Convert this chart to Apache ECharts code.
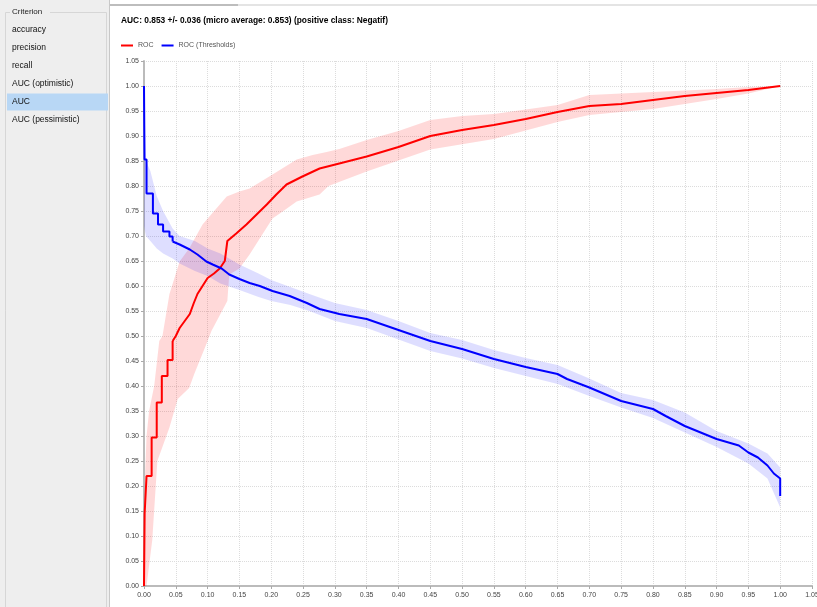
<!DOCTYPE html>
<html><head><meta charset="utf-8">
<script src="https://cdn.jsdelivr.net/npm/echarts@6/dist/echarts.min.js"></script>
<style>html,body{margin:0;padding:0;background:#fff;overflow:hidden}#c{width:817px;height:607px}</style>
</head><body><div id="c"></div>
<script>
// ---- data ----
const titleText = 'AUC: 0.853 +/- 0.036 (micro average: 0.853) (positive class: Negatif)';
const criteria = ['accuracy', 'precision', 'recall', 'AUC (optimistic)', 'AUC', 'AUC (pessimistic)'];
const selectedCriterion = 'AUC';
const seriesNames = ['ROC', 'ROC (Thresholds)'];

// ROC (red) – stepped start
const rocStepX = [0, 0.001, 0.004, 0.012, 0.020, 0.028, 0.037, 0.045];
const rocStepY = [0, 0.145, 0.220, 0.297, 0.367, 0.420, 0.452, 0.490];
// ROC (red) – rest
const rocX = [0.045, 0.050, 0.056, 0.064, 0.072, 0.078, 0.084, 0.092, 0.100, 0.110, 0.119, 0.127, 0.129, 0.131, 0.145, 0.161, 0.177, 0.193, 0.208, 0.224, 0.249, 0.276, 0.307, 0.35, 0.40, 0.45, 0.50, 0.55, 0.60, 0.65, 0.70, 0.75, 0.80, 0.85, 0.90, 0.95, 1.00];
const rocY = [0.490, 0.500, 0.516, 0.530, 0.544, 0.565, 0.584, 0.600, 0.616, 0.625, 0.635, 0.650, 0.670, 0.690, 0.705, 0.723, 0.743, 0.763, 0.783, 0.803, 0.819, 0.835, 0.845, 0.859, 0.878, 0.900, 0.912, 0.922, 0.934, 0.948, 0.960, 0.964, 0.972, 0.980, 0.986, 0.992, 1.000];
// ROC band
const rocUpX = [0, 0.001, 0.004, 0.008, 0.016, 0.024, 0.029, 0.040, 0.056, 0.071, 0.092, 0.130, 0.150, 0.166, 0.202, 0.240, 0.265, 0.287, 0.307, 0.35, 0.40, 0.45, 0.50, 0.55, 0.60, 0.65, 0.70, 0.75, 0.80, 0.90, 0.95, 1.00];
const rocUpY = [0, 0.200, 0.300, 0.350, 0.400, 0.490, 0.500, 0.584, 0.649, 0.675, 0.723, 0.779, 0.789, 0.795, 0.823, 0.853, 0.862, 0.868, 0.874, 0.892, 0.910, 0.932, 0.940, 0.944, 0.953, 0.962, 0.982, 0.985, 0.988, 0.994, 0.998, 1.000];
const rocLoX = [0, 0.004, 0.013, 0.021, 0.040, 0.053, 0.071, 0.079, 0.100, 0.106, 0.131, 0.134, 0.150, 0.166, 0.186, 0.202, 0.218, 0.240, 0.276, 0.29, 0.35, 0.45, 0.55, 0.65, 0.70, 0.80, 0.90, 0.95, 1.00];
const rocLoY = [0, 0.000, 0.092, 0.250, 0.317, 0.374, 0.396, 0.424, 0.490, 0.510, 0.570, 0.623, 0.635, 0.663, 0.703, 0.735, 0.749, 0.769, 0.783, 0.800, 0.829, 0.873, 0.894, 0.928, 0.942, 0.954, 0.974, 0.985, 1.000];

// ROC (Thresholds) (blue) – stepped start
const thrStepX = [0, 0.0008, 0.004, 0.014, 0.022, 0.030, 0.040, 0.045];
const thrStepY = [1.000, 0.853, 0.785, 0.745, 0.723, 0.709, 0.699, 0.689];
// ROC (Thresholds) – rest
const thrX = [0.045, 0.056, 0.072, 0.084, 0.098, 0.108, 0.122, 0.134, 0.150, 0.166, 0.182, 0.202, 0.229, 0.256, 0.276, 0.307, 0.35, 0.40, 0.45, 0.50, 0.55, 0.60, 0.65, 0.665, 0.70, 0.75, 0.80, 0.82, 0.85, 0.90, 0.935, 0.95, 0.965, 0.98, 0.99, 1.00, 1.00];
const thrY = [0.689, 0.683, 0.673, 0.663, 0.649, 0.643, 0.635, 0.623, 0.614, 0.606, 0.600, 0.590, 0.580, 0.566, 0.554, 0.544, 0.534, 0.512, 0.490, 0.474, 0.454, 0.438, 0.424, 0.414, 0.397, 0.370, 0.354, 0.340, 0.320, 0.294, 0.281, 0.267, 0.257, 0.241, 0.225, 0.215, 0.180];
// Thresholds band
const thrBandX = [0, 0.003, 0.01, 0.02, 0.03, 0.045, 0.056, 0.08, 0.10, 0.12, 0.15, 0.18, 0.20, 0.23, 0.26, 0.30, 0.35, 0.40, 0.45, 0.50, 0.55, 0.60, 0.65, 0.70, 0.75, 0.80, 0.85, 0.90, 0.95, 0.98, 1.00];
const thrBandHi = [1.000, 0.850, 0.830, 0.780, 0.750, 0.715, 0.700, 0.690, 0.675, 0.665, 0.643, 0.625, 0.612, 0.598, 0.584, 0.566, 0.552, 0.530, 0.506, 0.492, 0.472, 0.456, 0.442, 0.415, 0.386, 0.372, 0.347, 0.310, 0.285, 0.265, 0.237];
const thrBandLo = [0.720, 0.700, 0.690, 0.675, 0.665, 0.655, 0.645, 0.630, 0.620, 0.605, 0.592, 0.578, 0.570, 0.562, 0.550, 0.530, 0.516, 0.493, 0.470, 0.455, 0.436, 0.420, 0.404, 0.380, 0.357, 0.336, 0.307, 0.278, 0.245, 0.215, 0.157];

const axisMin = 0, axisMax = 1.05, axisStep = 0.05;

// ---- chart ----
const zip = (xs, ys) => xs.map((x, i) => [x, ys[i]]);
const chart = echarts.init(document.getElementById('c'), null, {renderer: 'canvas', width: 817, height: 607});

function bandSeries(name, upper, lower, color) {
  return {
    type: 'custom', name: name, silent: true, clip: true, z: 1,
    data: [[upper[0][0], upper[0][1]]],
    renderItem: function (params, api) {
      if (params.dataIndex !== 0) return null;
      const pts = upper.map(p => api.coord(p)).concat(lower.slice().reverse().map(p => api.coord(p)));
      return {type: 'polygon', shape: {points: pts}, style: {fill: color}};
    }
  };
}

const FONT = 'Liberation Sans';
const graphics = [
  {type: 'rect', shape: {x: 0, y: 0, width: 109, height: 607}, style: {fill: '#eeeeee'}, z: -10},
  {type: 'rect', shape: {x: 109, y: 0, width: 1, height: 607}, style: {fill: '#c8c8c8'}, z: -9},
  {type: 'rect', shape: {x: 110, y: 4, width: 128, height: 2}, style: {fill: '#bdbdbd'}, z: -9},
  {type: 'rect', shape: {x: 238, y: 4, width: 579, height: 2}, style: {fill: '#e4e4e4'}, z: -9},
  {type: 'rect', shape: {x: 5.5, y: 12.5, width: 101, height: 600}, style: {fill: 'none', stroke: '#d6d6d6', lineWidth: 1}, z: -8},
  {type: 'rect', shape: {x: 10, y: 7, width: 40, height: 10}, style: {fill: '#eeeeee'}, z: -7},
  {type: 'text', x: 12, y: 12, style: {text: 'Criterion', font: '8px ' + FONT, fill: '#222', verticalAlign: 'middle'}, z: -6}
];
criteria.forEach((c, i) => {
  const y = 30 + i * 18;
  if (c === selectedCriterion) {
    graphics.push({type: 'rect', shape: {x: 7, y: y - 8.5, width: 101, height: 17}, style: {fill: '#b8d7f5'}, z: -7});
  }
  graphics.push({type: 'text', x: 12, y: y, style: {text: c, font: '8.5px ' + FONT, fill: '#111', verticalAlign: 'middle'}, z: -6});
});
graphics.push({type: 'text', x: 121, y: 21, style: {text: titleText, font: 'bold 8.4px ' + FONT, fill: '#000', verticalAlign: 'middle'}});

const axisCommon = {
  type: 'value', min: axisMin, max: axisMax, interval: axisStep,
  axisLine: {show: true, lineStyle: {color: '#bbbbbb', width: 2}},
  axisTick: {show: true, length: 3, lineStyle: {color: '#aaaaaa'}},
  axisLabel: {fontSize: 7, color: '#444', fontFamily: FONT, formatter: v => v.toFixed(2)},
  splitLine: {show: true, lineStyle: {color: '#dcdcdc', type: 'dotted', width: 1}}
};

chart.setOption({
  animation: false,
  backgroundColor: '#ffffff',
  graphic: graphics,
  grid: {left: 144, top: 61, right: 5, bottom: 21, containLabel: false, outerBoundsMode: 'none'},
  legend: {
    data: seriesNames, left: 116, top: 37, itemWidth: 12, itemHeight: 2, icon: 'rect', itemGap: 8,
    textStyle: {fontSize: 7, color: '#555', fontFamily: FONT}
  },
  xAxis: Object.assign({}, axisCommon, {axisLabel: Object.assign({}, axisCommon.axisLabel, {margin: 6, showMaxLabel: true})}),
  yAxis: Object.assign({}, axisCommon, {axisLabel: Object.assign({}, axisCommon.axisLabel, {margin: 5})}),
  series: [
    bandSeries('rocBand', zip(rocUpX, rocUpY), zip(rocLoX, rocLoY), 'rgba(255,0,0,0.15)'),
    bandSeries('thrBand', zip(thrBandX, thrBandHi), zip(thrBandX, thrBandLo), 'rgba(0,0,255,0.13)'),
    {name: seriesNames[0], type: 'line', step: 'end', data: zip(rocStepX, rocStepY), showSymbol: false, z: 3,
     lineStyle: {color: '#ff0000', width: 2}, itemStyle: {color: '#ff0000'}},
    {name: seriesNames[0], type: 'line', data: zip(rocX, rocY), showSymbol: false, z: 3,
     lineStyle: {color: '#ff0000', width: 2}, itemStyle: {color: '#ff0000'}},
    {name: seriesNames[1], type: 'line', step: 'end', data: zip(thrStepX, thrStepY), showSymbol: false, z: 3,
     lineStyle: {color: '#0000ff', width: 2}, itemStyle: {color: '#0000ff'}},
    {name: seriesNames[1], type: 'line', data: zip(thrX, thrY), showSymbol: false, z: 3,
     lineStyle: {color: '#0000ff', width: 2}, itemStyle: {color: '#0000ff'}}
  ]
});
</script></body></html>
